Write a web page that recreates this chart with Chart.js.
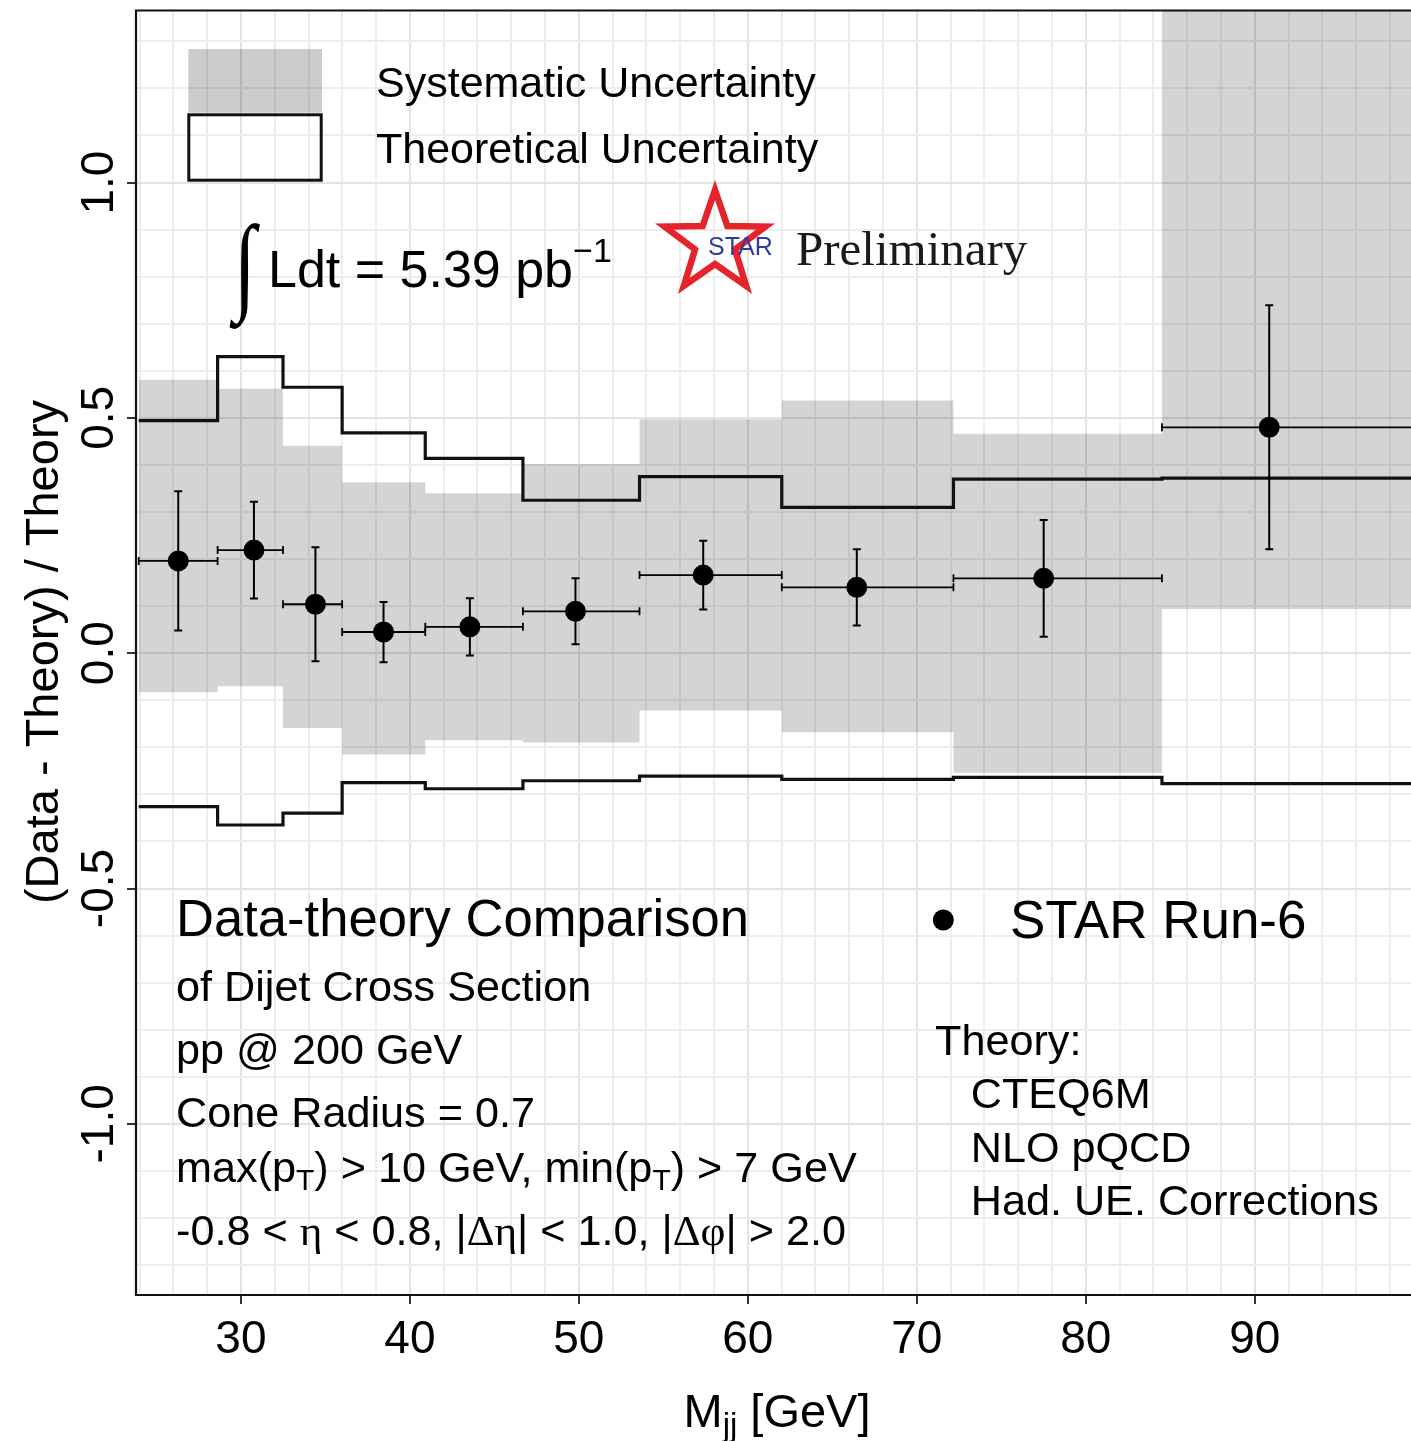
<!DOCTYPE html>
<html>
<head>
<meta charset="utf-8">
<script src="https://cdn.jsdelivr.net/npm/chart.js@4.4.1/dist/chart.umd.min.js"></script>
<style>
  html, body { margin: 0; padding: 0; background: #fff; overflow: hidden; }
  #wrap { width: 1411px; height: 1441px; }
  canvas { display: block; }
</style>
</head>
<body>
<div id="wrap"><canvas id="dijetChart" width="1411" height="1441"></canvas></div>
<script>
// Mjj bins [GeV]
const binEdges = [23.95, 28.62, 32.49, 35.99, 40.91, 46.69, 53.59, 62.01, 72.17, 84.51, 100.5];
// STAR Run-6 points
const pointX = [26.29, 30.77, 34.41, 38.44, 43.55, 49.80, 57.36, 66.45, 77.51, 90.86];
const pointY = [0.196, 0.219, 0.104, 0.045, 0.056, 0.089, 0.166, 0.140, 0.159, 0.480];
const statErr = [0.148, 0.103, 0.121, 0.064, 0.061, 0.070, 0.073, 0.081, 0.124, 0.259];
// systematic uncertainty band
const sysUpper = [0.581, 0.562, 0.441, 0.363, 0.340, 0.402, 0.497, 0.537, 0.466, 1.45];
const sysLower = [-0.083, -0.070, -0.159, -0.215, -0.185, -0.190, -0.122, -0.168, -0.254, 0.094];
// theoretical uncertainty
const theoryUpper = [0.494, 0.630, 0.565, 0.468, 0.414, 0.325, 0.375, 0.310, 0.370, 0.372];
const theoryLower = [-0.326, -0.365, -0.340, -0.275, -0.288, -0.271, -0.261, -0.268, -0.264, -0.277];
// ticks
const xTickLabels = ['30', '40', '50', '60', '70', '80', '90'];
const yTickLabels = ['-1.0', '-0.5', '0.0', '0.5', '1.0'];

const SANS = '"Liberation Sans", Arial, Helvetica, sans-serif';
const SERIF = '"Liberation Serif", "Times New Roman", serif';

function stepData(values) {
  const pts = values.map((v, i) => ({ x: binEdges[i], y: v }));
  pts.push({ x: binEdges[values.length], y: values[values.length - 1] });
  return pts;
}

function isMultiple(v, step) {
  const r = v / step;
  return Math.abs(r - Math.round(r)) < 1e-6;
}

// draws a row of text pieces (for sub/superscripts and greek letters)
function drawRuns(ctx, x, y, runs) {
  runs.forEach(r => {
    ctx.font = r.font;
    ctx.fillText(r.text, x, y + (r.dy || 0));
    x += ctx.measureText(r.text).width;
  });
  return x;
}
function runsWidth(ctx, runs) {
  let w = 0;
  runs.forEach(r => { ctx.font = r.font; w += ctx.measureText(r.text).width; });
  return w;
}

//#region error bars
const errorBarPlugin = {
  id: 'errorBars',
  afterDatasetsDraw(chart) {
    const { ctx, chartArea, scales: { x, y } } = chart;
    ctx.save();
    ctx.beginPath();
    ctx.rect(chartArea.left, chartArea.top, chartArea.right - chartArea.left, chartArea.bottom - chartArea.top);
    ctx.clip();
    ctx.strokeStyle = '#000';
    pointX.forEach((xv, i) => {
      const px = x.getPixelForValue(xv);
      const py = y.getPixelForValue(pointY[i]);
      const yTop = y.getPixelForValue(pointY[i] + statErr[i]);
      const yBot = y.getPixelForValue(pointY[i] - statErr[i]);
      const x0 = x.getPixelForValue(binEdges[i]);
      const x1 = x.getPixelForValue(binEdges[i + 1]);
      ctx.lineWidth = 2;
      ctx.beginPath();
      ctx.moveTo(px, yTop); ctx.lineTo(px, yBot);
      ctx.moveTo(px - 4, yTop); ctx.lineTo(px + 4, yTop);
      ctx.moveTo(px - 4, yBot); ctx.lineTo(px + 4, yBot);
      ctx.stroke();
      ctx.lineWidth = 1.8;
      ctx.beginPath();
      ctx.moveTo(x0, py); ctx.lineTo(x1, py);
      ctx.moveTo(x0, py - 4); ctx.lineTo(x0, py + 4);
      ctx.moveTo(x1, py - 4); ctx.lineTo(x1, py + 4);
      ctx.stroke();
    });
    ctx.restore();
  }
};
//#endregion

//#region frame, tick labels and annotations
const decorPlugin = {
  id: 'decor',
  afterDraw(chart) {
    const { ctx, chartArea, scales: { x, y } } = chart;
    ctx.save();

    // panel border (left, top, bottom)
    ctx.strokeStyle = '#111';
    ctx.lineWidth = 2.2;
    ctx.beginPath();
    ctx.moveTo(chartArea.right + 2, chartArea.top);
    ctx.lineTo(chartArea.left, chartArea.top);
    ctx.lineTo(chartArea.left, chartArea.bottom);
    ctx.lineTo(chartArea.right + 2, chartArea.bottom);
    ctx.stroke();

    ctx.fillStyle = '#000';
    ctx.textBaseline = 'alphabetic';

    // x tick labels
    ctx.font = '46px ' + SANS;
    ctx.textAlign = 'center';
    xTickLabels.forEach(t => {
      ctx.fillText(t, x.getPixelForValue(parseFloat(t)), 1353);
    });

    // y tick labels (rotated)
    yTickLabels.forEach(t => {
      ctx.save();
      ctx.translate(113, y.getPixelForValue(parseFloat(t)));
      ctx.rotate(-Math.PI / 2);
      ctx.font = '46px ' + SANS;
      ctx.textAlign = 'center';
      ctx.fillText(t, 0, 0);
      ctx.restore();
    });

    // y axis title
    ctx.save();
    ctx.translate(58, 652);
    ctx.rotate(-Math.PI / 2);
    ctx.font = '47px ' + SANS;
    ctx.textAlign = 'center';
    ctx.fillText('(Data - Theory) / Theory', 0, 0);
    ctx.restore();

    // x axis title
    ctx.textAlign = 'left';
    const xTitle = [
      { text: 'M', font: '47px ' + SANS },
      { text: 'jj', font: '33px ' + SANS, dy: 9 },
      { text: ' [GeV]', font: '47px ' + SANS }
    ];
    drawRuns(ctx, 777 - runsWidth(ctx, xTitle) / 2, 1426.7, xTitle);

    // legend boxes
    ctx.fillStyle = 'rgba(0,0,0,0.2)';
    ctx.fillRect(188.3, 49, 133.7, 63.7);
    ctx.strokeStyle = '#111';
    ctx.lineWidth = 3;
    ctx.strokeRect(188.8, 114.8, 132.4, 65.4);
    ctx.fillStyle = '#000';
    ctx.font = '43px ' + SANS;
    ctx.fillText('Systematic Uncertainty', 376, 96.7);
    ctx.fillText('Theoretical Uncertainty', 376, 162.7);

    // luminosity
    ctx.save();
    ctx.translate(234, 300);
    ctx.scale(1, 1.35);
    ctx.font = '80px ' + SERIF;
    ctx.fillText('\u222B', 0, 0);
    ctx.restore();
    drawRuns(ctx, 268, 287, [
      { text: 'Ldt = 5.39 pb', font: '52px ' + SANS },
      { text: '\u22121', font: '34px ' + SANS, dy: -25 }
    ]);

    // STAR logo
    const cx = 715, cy = 243, R = 53, r = 21;
    ctx.beginPath();
    for (let k = 0; k < 10; k++) {
      const a = -Math.PI / 2 + k * Math.PI / 5;
      const rad = k % 2 === 0 ? R : r;
      const px = cx + rad * Math.cos(a), py = cy + rad * Math.sin(a);
      if (k === 0) ctx.moveTo(px, py); else ctx.lineTo(px, py);
    }
    ctx.closePath();
    ctx.strokeStyle = '#e5232b';
    ctx.lineWidth = 6.5;
    ctx.lineJoin = 'miter';
    ctx.stroke();
    ctx.fillStyle = '#2f3c98';
    ctx.font = '25px ' + SANS;
    ctx.fillText('STAR', 708, 255);
    ctx.fillStyle = '#1a1a1a';
    ctx.font = '49px ' + SERIF;
    ctx.fillText('Preliminary', 796, 265);

    // description block
    ctx.fillStyle = '#000';
    ctx.font = '52.6px ' + SANS;
    ctx.fillText('Data-theory Comparison', 176, 936);
    const f43 = '43.2px ' + SANS, fSub = '30px ' + SANS, fGr = '43.2px ' + SERIF;
    ctx.font = f43;
    ctx.fillText('of Dijet Cross Section', 176, 1000.5);
    ctx.fillText('pp @ 200 GeV', 176, 1063.5);
    ctx.fillText('Cone Radius = 0.7', 176, 1126.5);
    drawRuns(ctx, 176, 1181.5, [
      { text: 'max(p', font: f43 },
      { text: 'T', font: fSub, dy: 8 },
      { text: ') > 10 GeV, min(p', font: f43 },
      { text: 'T', font: fSub, dy: 8 },
      { text: ') > 7 GeV', font: f43 }
    ]);
    drawRuns(ctx, 176, 1245, [
      { text: '-0.8 < ', font: f43 },
      { text: '\u03B7', font: fGr },
      { text: ' < 0.8, |', font: f43 },
      { text: '\u0394\u03B7', font: fGr },
      { text: '| < 1.0, |', font: f43 },
      { text: '\u0394\u03C6', font: fGr },
      { text: '| > 2.0', font: f43 }
    ]);

    // data legend and theory description
    ctx.beginPath();
    ctx.arc(943.3, 920, 10.5, 0, Math.PI * 2);
    ctx.fill();
    ctx.font = '53px ' + SANS;
    ctx.fillText('STAR Run-6', 1010, 938.3);
    ctx.font = '43.2px ' + SANS;
    ctx.fillText('Theory:', 935, 1055);
    ctx.fillText('CTEQ6M', 970.7, 1108.3);
    ctx.fillText('NLO pQCD', 970.7, 1161.7);
    ctx.fillText('Had. UE. Corrections', 970.7, 1215);

    ctx.restore();
  }
};
//#endregion

//#region chart
const ctx = document.getElementById('dijetChart').getContext('2d');

const dijetChart = new Chart(ctx, {
  type: 'line',
  data: {
    datasets: [
      {
        label: 'STAR Run-6',
        data: pointX.map((xv, i) => ({ x: xv, y: pointY[i] })),
        showLine: false,
        pointRadius: 10.5,
        pointBackgroundColor: '#000',
        pointBorderWidth: 0,
        order: 0
      },
      {
        label: 'Theory upper',
        data: stepData(theoryUpper),
        stepped: 'before',
        borderColor: '#111',
        borderWidth: 3.2,
        pointRadius: 0,
        fill: false,
        order: 1
      },
      {
        label: 'Theory lower',
        data: stepData(theoryLower),
        stepped: 'before',
        borderColor: '#111',
        borderWidth: 3.2,
        pointRadius: 0,
        fill: false,
        order: 2
      },
      {
        label: 'Systematic upper',
        data: stepData(sysUpper),
        stepped: 'before',
        borderWidth: 0,
        borderColor: 'rgba(0,0,0,0)',
        backgroundColor: 'rgba(0,0,0,0.17)',
        pointRadius: 0,
        fill: '+1',
        order: 3
      },
      {
        label: 'Systematic lower',
        data: stepData(sysLower),
        stepped: 'before',
        borderWidth: 0,
        borderColor: 'rgba(0,0,0,0)',
        pointRadius: 0,
        fill: false,
        order: 4
      }
    ]
  },
  options: {
    responsive: false,
    animation: false,
    layout: { autoPadding: false, padding: { top: 10.5, right: 0, left: 0, bottom: 0 } },
    plugins: {
      legend: { display: false },
      tooltip: { enabled: false }
    },
    scales: {
      x: {
        type: 'linear',
        min: 23.79,
        max: 99.25,
        afterFit(scale) { scale.height = 146; },
        ticks: { display: false, stepSize: 2, includeBounds: false, autoSkip: false },
        border: { display: false },
        grid: {
          lineWidth: 2,
          color: c => isMultiple(c.tick.value, 10) ? '#e3e3e3' : '#ededed',
          drawTicks: true,
          tickLength: 9,
          tickWidth: 2,
          tickColor: c => isMultiple(c.tick.value, 10) ? '#333' : 'rgba(0,0,0,0)'
        }
      },
      y: {
        type: 'linear',
        min: -1.3636,
        max: 1.3655,
        afterFit(scale) { scale.width = 136; },
        ticks: { display: false, stepSize: 0.1, includeBounds: false, autoSkip: false },
        border: { display: false },
        grid: {
          lineWidth: 2,
          color: c => isMultiple(c.tick.value, 0.5) ? '#e3e3e3' : '#ededed',
          drawTicks: true,
          tickLength: 9,
          tickWidth: 2,
          tickColor: c => isMultiple(c.tick.value, 0.5) ? '#333' : 'rgba(0,0,0,0)'
        }
      }
    }
  },
  plugins: [errorBarPlugin, decorPlugin]
});
//#endregion
</script>
</body>
</html>
